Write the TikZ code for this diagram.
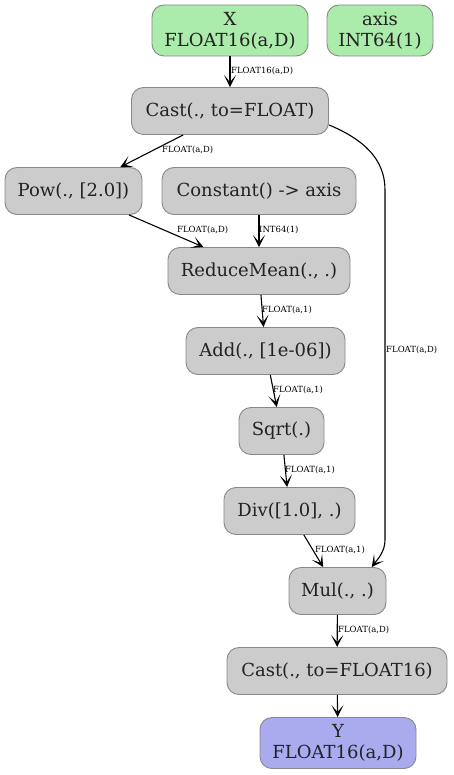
\documentclass[tikz,border=0pt]{standalone}
\usepackage{fontspec}
\setmainfont{DejaVu Serif}
\usetikzlibrary{arrows.meta}
\definecolor{inputg}{HTML}{ABEBAB}
\definecolor{opgray}{HTML}{CCCCCC}
\definecolor{outputb}{HTML}{AAAAEE}
\definecolor{rim}{HTML}{888888}
\definecolor{ink}{HTML}{222222}

\begin{document}
\begin{tikzpicture}[x=1pt,y=1pt,
  op/.style={draw=rim,fill=opgray,line width=0.9pt,rounded corners=12pt,
             minimum height=47pt,inner sep=0pt,text=ink,
             font=\fontsize{18}{21}\selectfont},
  inp/.style={op,fill=inputg,minimum height=51pt,align=center},
  outp/.style={inp,fill=outputb},
  flow/.style={-{Stealth[length=12pt,width=12pt,inset=7pt]},line width=1.1pt},
  lbl/.style={font=\fontsize{8.5}{9}\selectfont,anchor=west,inner sep=0pt}]
\useasboundingbox (0,0) rectangle (453,-775);

% inputs
\node[inp,minimum width=156pt] (x) at (230,-30.5) {X\\FLOAT16(a,D)};
\node[inp,minimum width=106pt] (axis) at (380,-30.5) {axis\\INT64(1)};

% operators
\node[op,minimum width=197pt] (cast) at (230,-111) {Cast(., to=FLOAT)};
\node[op,minimum width=137pt] (pow) at (73.5,-191) {Pow(., [2.0])};
\node[op,minimum width=194pt] (const) at (259,-191) {Constant() -> axis};
\node[op,minimum width=182pt] (rmean) at (259,-271) {ReduceMean(., .)};
\node[op,minimum width=159pt] (add) at (265.5,-351) {Add(., [1e-06])};
\node[op,minimum width=85pt] (sqrt) at (281.5,-431) {Sqrt(.)};
\node[op,minimum width=131pt] (div) at (289.5,-511) {Div([1.0], .)};
\node[op,minimum width=97pt] (mul) at (337.5,-591) {Mul(., .)};
\node[op,minimum width=220pt] (cast16) at (337,-671) {Cast(., to=FLOAT16)};

% output
\node[outp,minimum width=156pt] (y) at (338,-743) {Y\\FLOAT16(a,D)};

% edges
\draw[flow] (x) -- (cast);
\draw[flow] (cast) -- (pow);
\draw[flow] (cast.-8) .. controls (365,-140) and (385,-160) .. (385,-190)
  -- (385,-540) .. controls (385,-552) and (377,-560) .. (mul.35);
\draw[flow] (pow) -- (rmean);
\draw[flow] (const) -- (rmean);
\draw[flow] (rmean) -- (add);
\draw[flow] (add) -- (sqrt);
\draw[flow] (sqrt) -- (div);
\draw[flow] (div) -- (mul);
\draw[flow] (mul) -- (cast16);
\draw[flow] (cast16) -- (y);

% edge labels
\node[lbl] (l1) at (231,-71) {FLOAT16(a,D)};
\node[lbl] (l2) at (162,-150) {FLOAT(a,D)};
\node[lbl] (l3) at (386,-350) {FLOAT(a,D)};
\node[lbl] (l4) at (177,-230) {FLOAT(a,D)};
\node[lbl] (l5) at (259,-230) {INT64(1)};
\node[lbl] (l6) at (262,-310) {FLOAT(a,1)};
\node[lbl] (l7) at (273,-390) {FLOAT(a,1)};
\node[lbl] (l8) at (285,-470) {FLOAT(a,1)};
\node[lbl] (l9) at (315,-550) {FLOAT(a,1)};
\node[lbl] (l10) at (338,-630) {FLOAT(a,D)};
\end{tikzpicture}
\end{document}
